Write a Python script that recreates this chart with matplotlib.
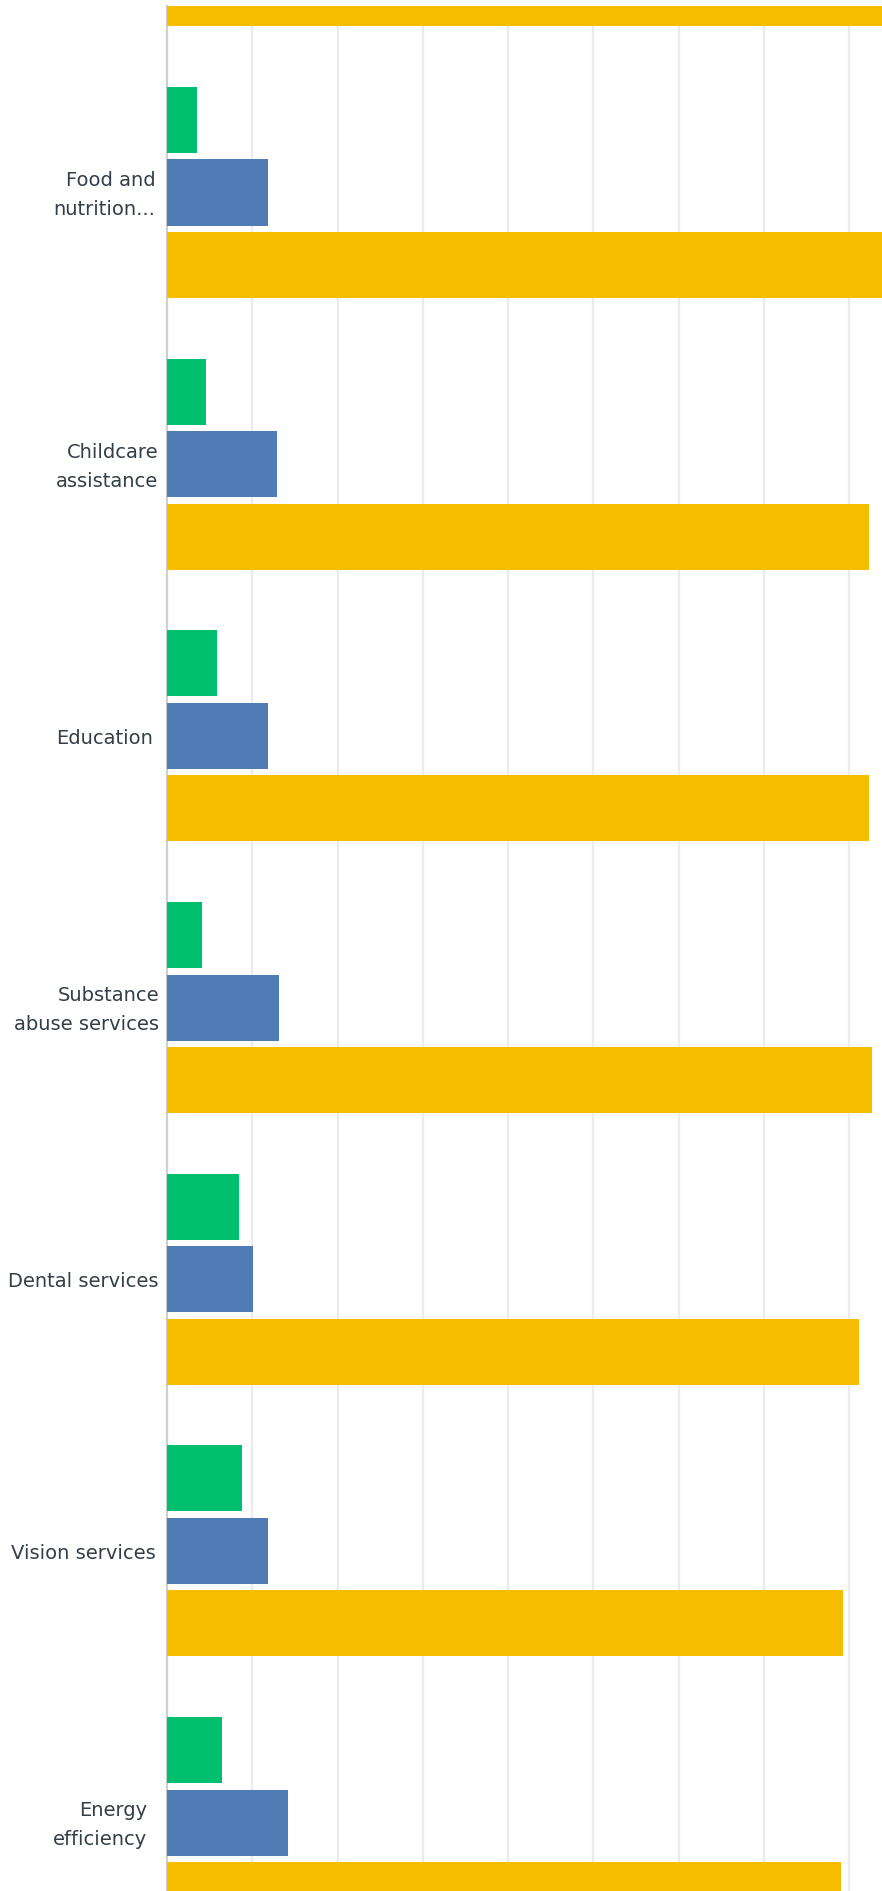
import matplotlib
matplotlib.use("Agg")
import matplotlib.pyplot as plt
import matplotlib.transforms as mtransforms
import numpy as np

# ---- data (percent of respondents) ----
categories = ["", "Food and\nnutrition...", "Childcare\nassistance", "Education",
              "Substance\nabuse services", "Dental services", "Vision services",
              "Energy\nefficiency"]
green_vals = [4.0, 3.5, 4.6, 5.9, 4.1, 8.4, 8.8, 6.5]
blue_vals = [10.0, 11.8, 12.9, 11.8, 13.1, 10.1, 11.8, 14.2]
yellow_vals = [86.0, 84.7, 82.3, 82.3, 82.7, 81.2, 79.3, 79.1]

# ---- style ----
GREEN = "#00bf6f"
BLUE = "#507cb6"
YELLOW = "#f7be00"
TEXT = "#333e48"
label_right_px = [158, 155.5, 158, 153, 159, 159, 155.5, 147.5]

W, H = 882, 1891
fig = plt.figure(figsize=(W / 100, H / 100), dpi=100)
ax_left, ax_top = 167, 6
ax = fig.add_axes([ax_left / W, 0, (W - ax_left) / W, (H - ax_top) / H])

spacing_px = 271.67
c0_px = 192.5
n = len(categories)
pos = np.arange(n) - 1  # hidden partial group at -1, Food at 0

bar_h = 0.243
step = 0.267
ax.barh(pos - step, green_vals, height=bar_h, color=GREEN, zorder=3)
ax.barh(pos, blue_vals, height=bar_h, color=BLUE, zorder=3)
ax.barh(pos + step, yellow_vals, height=bar_h, color=YELLOW, zorder=3)

ymin = (ax_top - c0_px) / spacing_px
ymax = (H - c0_px) / spacing_px
ax.set_ylim(ymax, ymin)
px_per_unit = 8.527
ax.set_xlim(0, (W - ax_left) / px_per_unit)

ax.set_xticks(np.arange(10, 90, 10))
ax.xaxis.grid(True, color="#ebebeb", linewidth=1.6, zorder=0)
ax.set_axisbelow(True)
ax.tick_params(axis="x", length=0, labelbottom=False)
ax.tick_params(axis="y", length=0, labelleft=False)
ax.set_yticks([])
for s in ["top", "right", "bottom"]:
    ax.spines[s].set_visible(False)
ax.spines["left"].set_color("#cfcfcf")
ax.spines["left"].set_linewidth(1.6)

trans = mtransforms.blended_transform_factory(fig.transFigure, ax.transData)
for p, lab, rx in zip(pos, categories, label_right_px):
    if not lab or p < ymin:
        continue
    ax.text(rx / W, p + 0.01, lab, transform=trans, ha="right", va="center",
            multialignment="right", fontsize=14, color=TEXT,
            family="DejaVu Sans", linespacing=1.7, clip_on=False)

fig.savefig("out.png", dpi=100, facecolor="white")
